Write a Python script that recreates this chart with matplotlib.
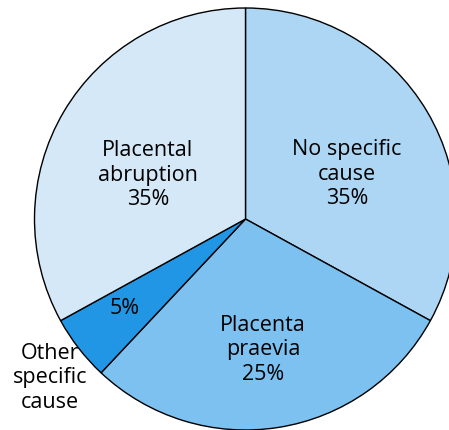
import matplotlib
matplotlib.use("Agg")
import matplotlib.pyplot as plt

# slice sizes as drawn (clockwise from 12 o'clock)
causes = ["No specific cause", "Placenta praevia", "Other specific cause", "Placental abruption"]
shares = [33, 29, 5, 33]
pct_labels = ["35%", "25%", "5%", "35%"]
colors = ["#acd6f4", "#7cc1f0", "#2196e4", "#d4e8f8"]

W, H = 449, 430
fig = plt.figure(figsize=(W / 100, H / 100), dpi=100)
ax = fig.add_axes([0, 0, 1, 1])

cx, cy, r = 245.5, H - 219, 211
ax.pie(shares, colors=colors, startangle=90, counterclock=False,
       center=(cx, cy), radius=r, frame=True,
       wedgeprops=dict(edgecolor="black", linewidth=1.0))
ax.set_xlim(0, W)
ax.set_ylim(0, H)
ax.set_aspect("equal")
ax.axis("off")

plt.rcParams['font.family'] = ['Open Sans', 'DejaVu Sans']
fs = 15.5
ls = 1.2

def px(x, y):
    return x, H - y

ax.text(*px(347, 174), "No specific\ncause\n" + pct_labels[0], ha="center", va="center",
        fontsize=fs, linespacing=ls)
ax.text(*px(263, 350), "Placenta\npraevia\n" + pct_labels[1], ha="center", va="center",
        fontsize=fs, linespacing=ls)
ax.text(*px(125, 309), pct_labels[2], ha="center", va="center", fontsize=fs)
ax.text(*px(50, 378), "Other\nspecific\ncause", ha="center", va="center",
        fontsize=fs, linespacing=ls)
ax.text(*px(148, 175), "Placental\nabruption\n" + pct_labels[3], ha="center", va="center",
        fontsize=fs, linespacing=ls)

fig.savefig("out.png", dpi=100)
